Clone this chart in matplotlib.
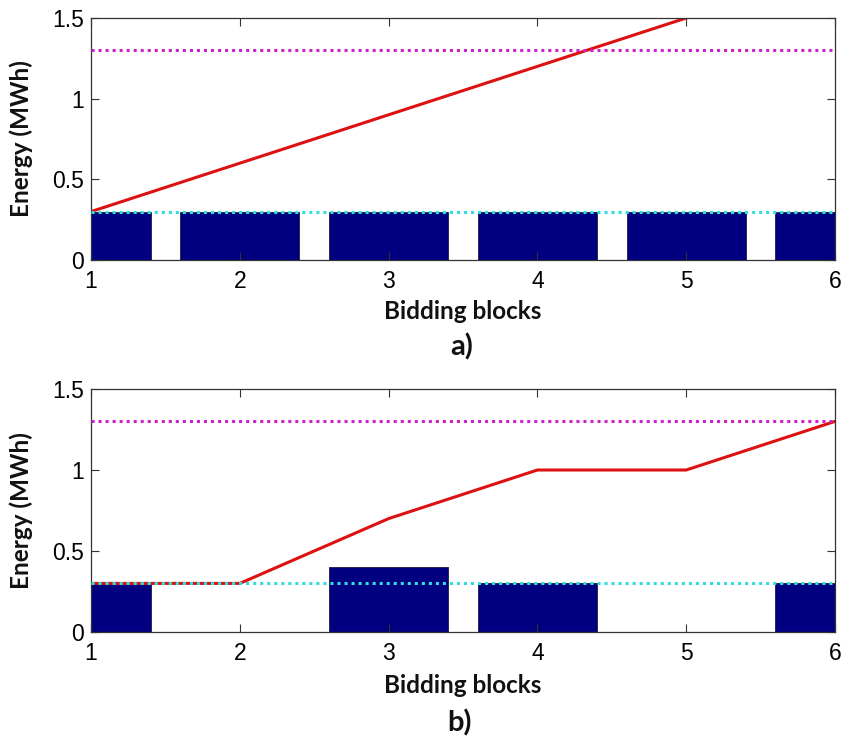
import matplotlib
matplotlib.use("Agg")
import matplotlib.pyplot as plt
import numpy as np

# Bidding blocks and energy values for the two scenarios
blocks = [1, 2, 3, 4, 5, 6]
bars_a = [0.3, 0.3, 0.3, 0.3, 0.3, 0.3]
line_a = [0.3, 0.6, 0.9, 1.2, 1.5, 1.8]
bars_b = [0.3, 0.0, 0.4, 0.3, 0.0, 0.3]
line_b = [0.3, 0.3, 0.7, 1.0, 1.0, 1.3]
upper_limit = 1.3
lower_limit = 0.3
yticks = [0, 0.5, 1, 1.5]
ytick_labels = ["0", "0.5", "1", "1.5"]
panel_tags = ["a)", "b)"]

W, H = 845, 742
fig = plt.figure(figsize=(W / 100, H / 100), dpi=100)

tick_font = dict(family="Liberation Sans", size=16.5)
label_font = dict(family="Lato", weight="bold", size=17.5)

def px_rect(left, top, right, bottom):
    return [left / W, 1 - bottom / H, (right - left) / W, (bottom - top) / H]

axes_boxes = [px_rect(91, 18, 835, 260), px_rect(91, 389, 835, 632)]
tag_pos = [(462, 347), (460, 723)]
xlabel_y = [-0.211, -0.222]

for i, (bars, line) in enumerate([(bars_a, line_a), (bars_b, line_b)]):
    ax = fig.add_axes(axes_boxes[i])
    ax.bar(blocks, bars, width=0.8, color="#000080", edgecolor="#1a1a40",
           linewidth=0.6, zorder=1)
    ax.plot(blocks, line, color="#dd1111", lw=2.2, zorder=2)
    ax.axhline(upper_limit, color="#cc22cc", lw=2.2, ls=(0, (1, 1.3)), zorder=3)
    ax.axhline(lower_limit, color="#33dddd", lw=2.2, ls=(0, (1, 1.3)), zorder=3)
    ax.set_xlim(1, 6)
    ax.set_ylim(0, 1.5)
    ax.set_xticks(blocks)
    ax.set_xticklabels([str(b) for b in blocks], **tick_font)
    ax.set_yticks(yticks)
    ax.set_yticklabels(ytick_labels, **tick_font)
    ax.tick_params(direction="in", top=True, right=True, length=6,
                   width=0.8, color="#333333")
    ax.tick_params(axis="x", pad=7)
    ax.tick_params(axis="y", pad=5)
    for s in ax.spines.values():
        s.set_color("#333333")
        s.set_linewidth(0.9)
    ax.set_xlabel("Bidding blocks", color="#111111", va="center", **label_font)
    ax.xaxis.set_label_coords(0.5, xlabel_y[i])
    ax.set_ylabel("Energy (MWh)", color="#111111", va="center", **label_font)
    ax.yaxis.set_label_coords(-0.094, 0.5)
    fig.text(tag_pos[i][0] / W, 1 - tag_pos[i][1] / H, panel_tags[i],
             ha="center", va="center", family="Lato", weight="bold",
             size=21, color="#111111")

fig.savefig("out.png", dpi=100)
